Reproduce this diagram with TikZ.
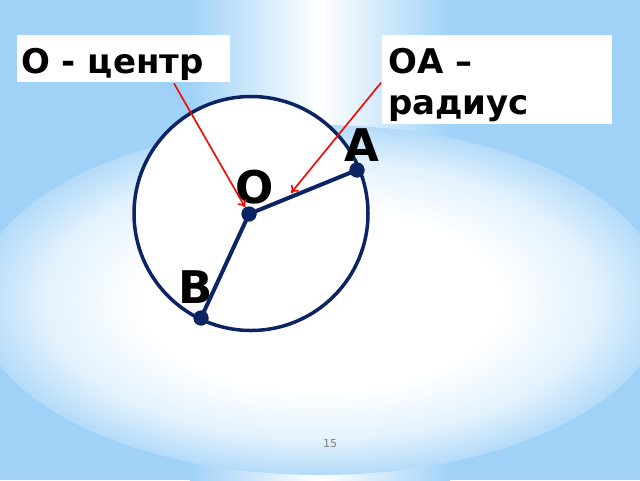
\documentclass[tikz,border=0pt]{standalone}
\usepackage{fontspec}
\setmainfont{DejaVu Sans}
\usetikzlibrary{arrows.meta,calc}
\definecolor{bgblue}{RGB}{160,210,248}
\definecolor{navy}{RGB}{12,36,100}
\definecolor{pgray}{RGB}{128,128,128}
\pgfdeclareradialshading{glow}{\pgfpoint{0bp}{0bp}}{color(0bp)=(white); color(13bp)=(white); color(20bp)=(white!70!bgblue); color(25bp)=(bgblue!80!white); color(50bp)=(bgblue)}
\begin{document}
\begin{tikzpicture}[x=1pt,y=-1pt,
  box/.style={fill=white, inner sep=0pt, anchor=north west},
  boxtext/.style={anchor=base west, inner sep=0pt, font=\fontsize{34}{41}\selectfont\bfseries},
  lbl/.style={inner sep=0pt, font=\fontsize{45}{45}\selectfont\bfseries},
  dot/.style={circle, fill=navy, inner sep=0pt, minimum size=15pt},
  seg/.style={navy, line width=4pt},
  pointer/.style={red, line width=1.6pt, -{To[length=7pt,width=10pt]}}
]
\useasboundingbox (0,0) rectangle (640,480);
% background
\fill[bgblue] (0,0) rectangle (640,480);
\shade[left color=bgblue, right color=white] (190,0) rectangle (320,480);
\shade[left color=white, right color=bgblue] (320,0) rectangle (450,480);
\begin{scope}
\clip (0,0) rectangle (640,480);
\clip (320,300) ellipse (345 and 175);
\shade[shading=glow] (320,300) ellipse (345 and 175);
\end{scope}

% boxes
\node[box, minimum width=213pt, minimum height=47pt] (box1) at (17,35) {};
\node[boxtext] (t1) at (21,73) {О - центр};
\node[box, minimum width=230pt, minimum height=89pt] (box2) at (382,35) {};
\node[boxtext, align=left] (t2) at (388,73) {ОА –};
\node[boxtext] (t3) at (388,114) {радиус};

% circle
\node[circle, draw=navy, fill=white, line width=3.5pt, minimum size=234pt, inner sep=0pt] (c) at (251,213.5) {};

% points
\node[dot] (O) at (249,214) {};
\node[dot] (A) at (357,170) {};
\node[dot] (B) at (201,318) {};
\draw[seg] (O.center) -- (A.center);
\draw[seg] (O.center) -- (B.center);
\node[dot] at (O.center) {};
\node[dot] at (A.center) {};
\node[dot] at (B.center) {};

% labels
\node[lbl] (lA) at (362,145) {A};
\node[lbl] (lO) at (255,187) {O};
\node[lbl] (lB) at (196,287) {B};

% pointers
\coordinate (p1) at ($(box1.south west)+(157,1)$);
\coordinate (p2) at ($(box2.west)+(-1,3)$);
\coordinate (q2) at (291,193);
\draw[pointer] (p1) -- (O);
\draw[pointer] (p2) -- (q2);

% page number
\node[text=pgray, font=\fontsize{11}{11}\selectfont] (pn) at (330,444) {15};
\end{tikzpicture}
\end{document}
